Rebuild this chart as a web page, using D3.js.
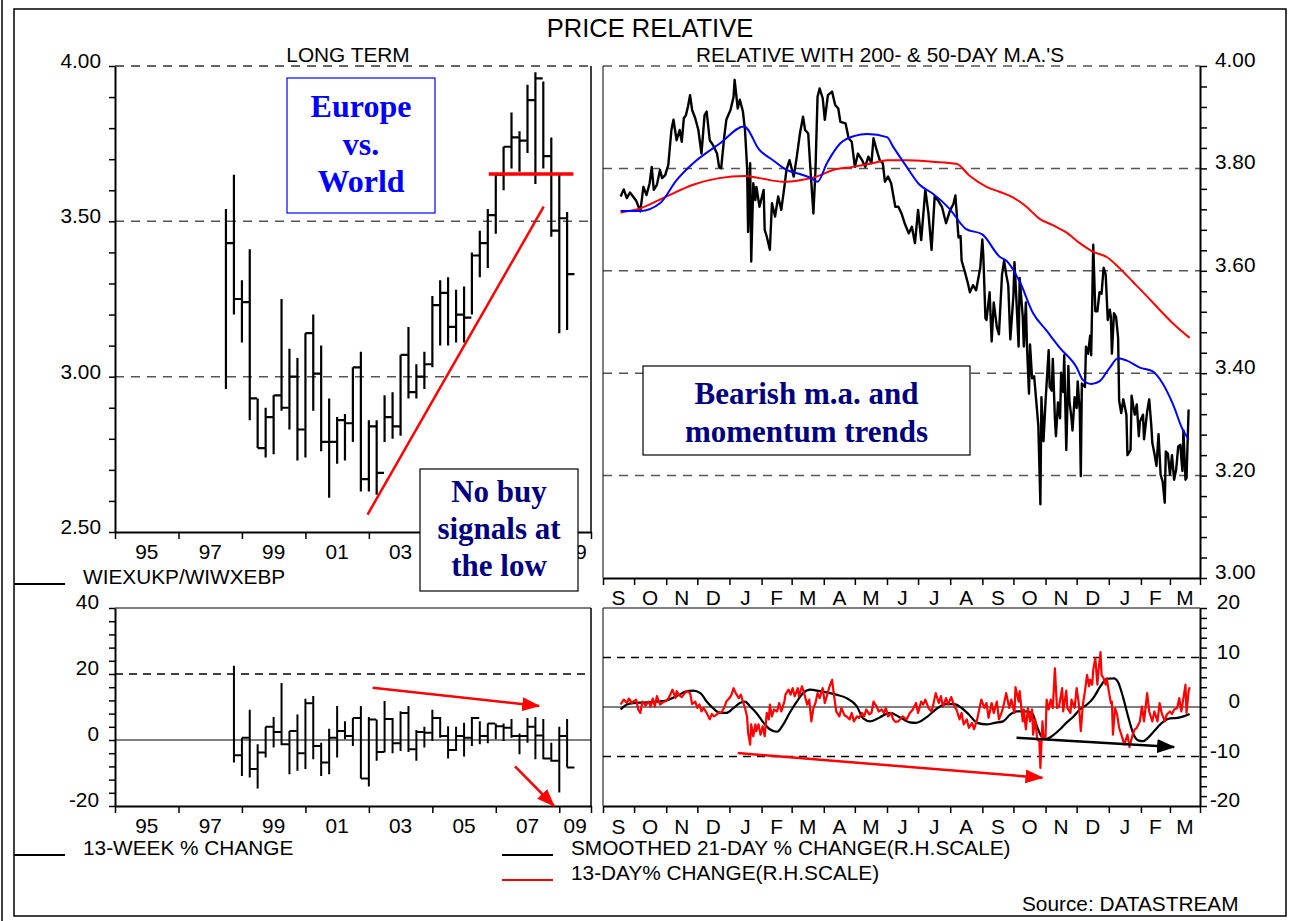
<!DOCTYPE html>
<html lang="en">
<head>
  <meta charset="UTF-8">
  <title>Price relative - Europe vs. World</title>
  <script src="https://d3js.org/d3.v7.min.js"></script>
  <style>
    body { margin: 0; background: #fff; }
    svg { display: block; font-family: "Liberation Sans", Arial, sans-serif; }
    .lbl { font-size: 20.8px; fill: #000; }
    .note { font-family: "Liberation Serif", "Times New Roman", serif; font-weight: bold; font-size: 31px; }
  </style>
</head>
<body>
<svg width="1299" height="921"></svg>

<script>
  // ---- data ----
  const yearLabels = ["95", "97", "99", "01", "03", "05", "07", "09"];
  const monthLabels = ["S","O","N","D","J","F","M","A","M","J","J","A","S","O","N","D","J","F","M"];

  // quarterly bars (plotted at quarter end)
  const quarters = ["1998Q2","1998Q3","1998Q4","1999Q1","1999Q2","1999Q3","1999Q4","2000Q1","2000Q2","2000Q3","2000Q4",
    "2001Q1","2001Q2","2001Q3","2001Q4","2002Q1","2002Q2","2002Q3","2002Q4","2003Q1","2003Q2","2003Q3","2003Q4",
    "2004Q1","2004Q2","2004Q3","2004Q4","2005Q1","2005Q2","2005Q3","2005Q4","2006Q1","2006Q2","2006Q3","2006Q4",
    "2007Q1","2007Q2","2007Q3","2007Q4","2008Q1","2008Q2","2008Q3","2008Q4","2009Q1"];
  const relHigh  = [3.54,3.65,3.31,3.41,2.93,2.90,2.94,3.25,3.09,3.06,3.14,3.20,3.10,2.93,2.87,2.88,3.03,3.08,2.86,2.86,2.94,2.95,
    3.07,3.16,3.04,3.08,3.26,3.31,3.32,3.28,3.29,3.40,3.47,3.54,3.65,3.74,3.85,3.79,3.94,3.98,3.95,3.77,3.65,3.53];
  const relLow   = [2.96,3.20,3.11,2.86,2.77,2.74,2.75,2.89,2.83,2.73,2.74,2.89,2.76,2.61,2.72,2.73,2.79,2.63,2.63,2.62,2.79,2.80,
    2.81,2.93,2.93,2.96,3.03,3.10,3.10,3.11,3.11,3.20,3.32,3.35,3.46,3.60,3.67,3.66,3.72,3.62,3.67,3.45,3.14,3.15];
  const relClose = [3.43,3.25,3.24,2.93,2.77,2.87,2.94,2.90,3.00,2.83,3.14,3.01,2.79,2.79,2.86,2.85,3.03,2.67,2.84,2.69,2.87,2.84,
    3.07,2.95,3.00,3.04,3.23,3.27,3.16,3.20,3.19,3.39,3.43,3.52,3.65,3.74,3.77,3.76,3.89,3.96,3.71,3.47,3.51,3.33];

  // 13-week % change, starts one quarter later
  const chgQuarters = quarters.slice(1);
  const chgHigh  = [22.5,0.7,9.2,-1.3,4.0,7.0,17.3,2.7,7.7,12.5,13.3,-0.8,3.4,10.3,5.7,6.7,10.3,7.0,6.2,11.8,6.7,8.7,10.3,3.0,
    4.0,9.2,7.0,4.2,4.0,5.2,7.0,5.7,5.0,5.0,5.0,6.4,2.0,6.7,7.0,6.4,-0.8,4.0,6.4];
  const chgLow   = [-6.8,-10.9,-11.4,-14.7,-5.3,-2.3,-1.6,-10.4,-9.3,-8.8,-5.8,-10.9,-10.4,-5.3,0.2,-1.8,-11.7,-14.1,-6.3,-3.8,
    -4.0,-3.3,-3.6,-6.3,-2.3,-0.3,0.7,-5.6,-3.3,-5.0,-1.8,-1.3,-1.0,0.2,-0.3,0.7,-4.3,-0.8,-5.8,-5.8,-6.6,-15.9,-8.3];
  const chgClose = [-4.6,0.7,-8.8,-3.8,4.0,2.4,-1.3,2.7,-4.0,11.1,-1.8,-6.8,0.7,2.7,1.2,6.7,-11.7,6.2,-3.6,6.4,-1.0,8.2,-2.8,
    2.4,2.2,6.7,1.2,-3.0,1.2,0.7,6.7,1.2,5.0,4.2,3.7,1.2,1.2,4.0,1.4,-5.6,-6.3,1.2,-8.3];

  // daily relative
  const relDaily = [
    ["2007-09-18",3.745],["2007-09-21",3.759],["2007-09-24",3.742],["2007-09-27",3.753],["2007-09-30",3.745],["2007-10-03",3.737],
    ["2007-10-07",3.716],["2007-10-10",3.764],["2007-10-13",3.748],["2007-10-16",3.771],["2007-10-18",3.803],["2007-10-20",3.758],
    ["2007-10-23",3.768],["2007-10-26",3.797],["2007-10-28",3.781],["2007-10-31",3.787],["2007-11-03",3.807],["2007-11-06",3.875],
    ["2007-11-08",3.895],["2007-11-11",3.855],["2007-11-14",3.875],["2007-11-16",3.852],["2007-11-18",3.898],["2007-11-20",3.904],
    ["2007-11-22",3.921],["2007-11-24",3.943],["2007-11-26",3.914],["2007-11-29",3.898],["2007-12-02",3.875],["2007-12-05",3.829],
    ["2007-12-08",3.904],["2007-12-10",3.911],["2007-12-13",3.855],["2007-12-16",3.846],["2007-12-20",3.829],["2007-12-22",3.803],
    ["2007-12-24",3.800],["2007-12-27",3.862],["2007-12-29",3.895],["2008-01-02",3.914],["2008-01-05",3.940],["2008-01-06",3.973],
    ["2008-01-09",3.917],["2008-01-11",3.934],["2008-01-14",3.911],["2008-01-16",3.875],["2008-01-18",3.803],["2008-01-19",3.676],
    ["2008-01-21",3.810],["2008-01-22",3.618],["2008-01-24",3.771],["2008-01-26",3.738],["2008-01-27",3.764],["2008-01-30",3.725],
    ["2008-02-03",3.758],["2008-02-04",3.680],["2008-02-06",3.667],["2008-02-09",3.641],["2008-02-11",3.732],["2008-02-14",3.706],
    ["2008-02-17",3.745],["2008-02-20",3.719],["2008-02-23",3.764],["2008-02-25",3.797],["2008-02-28",3.816],["2008-03-03",3.784],
    ["2008-03-06",3.823],["2008-03-09",3.868],["2008-03-12",3.901],["2008-03-14",3.875],["2008-03-17",3.868],["2008-03-19",3.803],
    ["2008-03-22",3.712],["2008-03-24",3.797],["2008-03-26",3.940],["2008-03-28",3.956],["2008-03-31",3.937],["2008-04-02",3.895],
    ["2008-04-05",3.943],["2008-04-09",3.950],["2008-04-12",3.924],["2008-04-15",3.917],["2008-04-17",3.891],["2008-04-22",3.888],
    ["2008-04-25",3.859],["2008-04-28",3.852],["2008-05-01",3.803],["2008-05-04",3.829],["2008-05-08",3.816],["2008-05-11",3.803],
    ["2008-05-14",3.823],["2008-05-17",3.810],["2008-05-19",3.859],["2008-05-22",3.836],["2008-05-25",3.816],["2008-05-28",3.810],
    ["2008-05-30",3.774],["2008-06-02",3.784],["2008-06-05",3.771],["2008-06-09",3.725],["2008-06-12",3.725],["2008-06-15",3.712],
    ["2008-06-18",3.693],["2008-06-22",3.673],["2008-06-25",3.686],["2008-06-28",3.654],["2008-07-01",3.719],["2008-07-04",3.660],
    ["2008-07-08",3.758],["2008-07-11",3.712],["2008-07-14",3.641],["2008-07-17",3.745],["2008-07-20",3.738],["2008-07-24",3.725],
    ["2008-07-28",3.693],["2008-08-01",3.719],["2008-08-04",3.730],["2008-08-06",3.747],["2008-08-09",3.665],["2008-08-11",3.668],
    ["2008-08-12",3.620],["2008-08-15",3.599],["2008-08-18",3.576],["2008-08-20",3.558],["2008-08-23",3.572],["2008-08-26",3.562],
    ["2008-08-30",3.606],["2008-09-01",3.661],["2008-09-02",3.627],["2008-09-04",3.507],["2008-09-05",3.504],["2008-09-08",3.558],
    ["2008-09-10",3.462],["2008-09-12",3.538],["2008-09-15",3.490],["2008-09-17",3.476],["2008-09-20",3.593],["2008-09-22",3.620],
    ["2008-09-24",3.593],["2008-09-26",3.572],["2008-09-28",3.466],["2008-10-01",3.552],["2008-10-02",3.617],["2008-10-04",3.538],
    ["2008-10-06",3.452],["2008-10-07",3.586],["2008-10-10",3.510],["2008-10-11",3.452],["2008-10-13",3.538],["2008-10-14",3.456],
    ["2008-10-16",3.360],["2008-10-17",3.456],["2008-10-19",3.390],["2008-10-21",3.394],["2008-10-23",3.346],["2008-10-25",3.298],
    ["2008-10-27",3.144],["2008-10-28",3.353],["2008-10-30",3.267],["2008-11-01",3.346],["2008-11-04",3.445],["2008-11-05",3.373],
    ["2008-11-07",3.366],["2008-11-08",3.428],["2008-11-10",3.312],["2008-11-11",3.277],["2008-11-13",3.343],["2008-11-15",3.312],
    ["2008-11-16",3.401],["2008-11-18",3.363],["2008-11-19",3.435],["2008-11-21",3.250],["2008-11-23",3.414],["2008-11-24",3.346],
    ["2008-11-26",3.312],["2008-11-27",3.288],["2008-11-29",3.353],["2008-12-01",3.332],["2008-12-02",3.384],["2008-12-04",3.325],
    ["2008-12-05",3.199],["2008-12-06",3.380],["2008-12-09",3.373],["2008-12-10",3.452],["2008-12-12",3.438],["2008-12-14",3.473],
    ["2008-12-15",3.435],["2008-12-16",3.538],["2008-12-17",3.651],["2008-12-19",3.521],["2008-12-21",3.521],["2008-12-23",3.558],
    ["2008-12-25",3.555],["2008-12-27",3.606],["2008-12-29",3.593],["2008-12-31",3.504],["2009-01-02",3.524],["2009-01-03",3.510],
    ["2009-01-04",3.438],["2009-01-06",3.517],["2009-01-08",3.510],["2009-01-10",3.469],["2009-01-11",3.346],["2009-01-13",3.322],
    ["2009-01-15",3.349],["2009-01-18",3.319],["2009-01-19",3.240],["2009-01-22",3.250],["2009-01-23",3.356],["2009-01-26",3.319],
    ["2009-01-28",3.339],["2009-01-30",3.277],["2009-01-31",3.305],["2009-02-03",3.319],["2009-02-04",3.271],["2009-02-07",3.325],
    ["2009-02-09",3.349],["2009-02-11",3.298],["2009-02-12",3.264],["2009-02-14",3.243],["2009-02-16",3.219],["2009-02-18",3.281],
    ["2009-02-20",3.202],["2009-02-22",3.188],["2009-02-24",3.147],["2009-02-25",3.247],["2009-02-27",3.243],["2009-03-01",3.202],
    ["2009-03-03",3.240],["2009-03-05",3.192],["2009-03-07",3.212],["2009-03-09",3.257],["2009-03-11",3.260],["2009-03-13",3.209],
    ["2009-03-14",3.288],["2009-03-16",3.192],["2009-03-17",3.195],["2009-03-19",3.329]];

  const ma50 = [
    ["2007-09-18",3.717],["2007-10-07",3.717],["2007-10-26",3.732],["2007-11-11",3.777],["2007-11-27",3.810],["2007-12-23",3.849],
    ["2008-01-15",3.882],["2008-01-30",3.836],["2008-02-12",3.816],["2008-02-25",3.797],["2008-03-09",3.789],["2008-03-20",3.781],
    ["2008-03-26",3.774],["2008-04-04",3.810],["2008-04-17",3.849],["2008-04-30",3.863],["2008-05-13",3.867],["2008-06-01",3.861],
    ["2008-06-07",3.842],["2008-06-20",3.803],["2008-07-02",3.769],["2008-07-15",3.751],["2008-07-31",3.722],["2008-08-16",3.682],
    ["2008-09-01",3.671],["2008-09-18",3.627],["2008-09-24",3.620],["2008-10-07",3.579],["2008-10-20",3.517],["2008-11-02",3.483],
    ["2008-11-15",3.449],["2008-12-01",3.411],["2008-12-07",3.387],["2008-12-15",3.379],["2008-12-23",3.384],["2009-01-02",3.411],
    ["2009-01-10",3.429],["2009-01-18",3.425],["2009-01-31",3.411],["2009-02-12",3.404],["2009-02-22",3.380],["2009-03-04",3.339],
    ["2009-03-13",3.291],["2009-03-19",3.271]];

  const ma200 = [
    ["2007-09-18",3.714],["2007-10-07",3.722],["2007-11-01",3.745],["2007-11-27",3.768],["2007-12-22",3.781],["2008-01-16",3.785],
    ["2008-01-30",3.781],["2008-02-22",3.774],["2008-03-09",3.777],["2008-03-25",3.784],["2008-04-10",3.797],["2008-04-29",3.803],
    ["2008-05-18",3.810],["2008-06-01",3.816],["2008-06-20",3.816],["2008-07-15",3.813],["2008-08-07",3.809],["2008-08-20",3.785],
    ["2008-09-05",3.764],["2008-09-18",3.754],["2008-10-01",3.743],["2008-10-13",3.726],["2008-10-26",3.702],["2008-11-08",3.689],
    ["2008-11-21",3.675],["2008-12-04",3.654],["2008-12-17",3.637],["2008-12-30",3.627],["2009-01-11",3.606],["2009-01-24",3.579],
    ["2009-02-06",3.552],["2009-02-19",3.524],["2009-03-04",3.497],["2009-03-20",3.469]];

  // 13-day % change (red)
  const chg13d = [
    ["2007-09-18",0.5],["2007-09-21",1.5],["2007-09-24",0.8],["2007-09-26",1.7],["2007-09-29",0.8],["2007-09-30",1.1],["2007-10-03",1.5],
    ["2007-10-05",-0.5],["2007-10-07",-1.2],["2007-10-09",1.1],["2007-10-12",0.3],["2007-10-15",1.1],["2007-10-17",0.1],["2007-10-19",1.7],
    ["2007-10-21",0.1],["2007-10-23",2.2],["2007-10-26",0.5],["2007-10-29",1.0],["2007-10-31",1.1],["2007-11-03",1.7],["2007-11-05",2.5],
    ["2007-11-07",3.5],["2007-11-10",1.8],["2007-11-11",3.2],["2007-11-13",2.5],["2007-11-16",2.0],["2007-11-19",2.8],["2007-11-21",3.2],
    ["2007-11-24",2.8],["2007-11-26",0.6],["2007-11-29",1.1],["2007-12-01",-0.2],["2007-12-03",0.5],["2007-12-05",-0.9],["2007-12-07",-0.2],
    ["2007-12-10",-1.2],["2007-12-13",-2.5],["2007-12-15",-1.4],["2007-12-17",-1.9],["2007-12-20",-1.5],["2007-12-22",-1.0],["2007-12-24",-1.2],
    ["2007-12-27",-0.1],["2007-12-29",1.1],["2008-01-01",1.8],["2008-01-03",2.5],["2008-01-05",3.8],["2008-01-07",2.8],["2008-01-10",1.8],
    ["2008-01-12",2.5],["2008-01-14",1.1],["2008-01-16",-0.2],["2008-01-18",-1.9],["2008-01-19",-5.2],["2008-01-21",-7.6],["2008-01-22",-3.5],
    ["2008-01-24",-5.9],["2008-01-26",-3.5],["2008-01-27",-4.9],["2008-01-29",-3.5],["2008-01-31",-5.6],["2008-02-02",-3.9],["2008-02-04",-5.9],
    ["2008-02-06",-1.2],["2008-02-08",-2.5],["2008-02-09",0.5],["2008-02-11",-1.9],["2008-02-13",-0.5],["2008-02-16",-0.9],["2008-02-18",0.8],
    ["2008-02-20",-0.9],["2008-02-23",1.1],["2008-02-24",2.5],["2008-02-27",3.5],["2008-02-29",2.5],["2008-03-02",3.8],["2008-03-04",2.2],
    ["2008-03-07",3.8],["2008-03-08",2.2],["2008-03-11",4.2],["2008-03-13",2.8],["2008-03-16",0.5],["2008-03-18",1.5],["2008-03-20",-2.9],
    ["2008-03-22",-0.2],["2008-03-24",0.8],["2008-03-26",2.8],["2008-03-28",1.8],["2008-03-31",3.8],["2008-04-02",0.8],["2008-04-04",2.2],
    ["2008-04-06",3.8],["2008-04-09",5.5],["2008-04-11",2.2],["2008-04-13",-0.9],["2008-04-16",-1.9],["2008-04-18",-0.2],["2008-04-21",-1.7],
    ["2008-04-23",-1.9],["2008-04-26",-2.5],["2008-04-28",-1.2],["2008-04-30",-2.9],["2008-05-03",-1.9],["2008-05-05",-2.2],["2008-05-08",-1.2],
    ["2008-05-10",-1.9],["2008-05-12",-0.5],["2008-05-15",-1.5],["2008-05-17",-1.2],["2008-05-19",1.1],["2008-05-22",0.1],["2008-05-24",-0.9],
    ["2008-05-27",-0.5],["2008-05-29",-1.2],["2008-05-31",-0.2],["2008-06-02",-1.9],["2008-06-05",-1.2],["2008-06-07",-2.5],["2008-06-09",-3.0],
    ["2008-06-12",-2.9],["2008-06-16",-1.9],["2008-06-20",-2.5],["2008-06-23",-1.2],["2008-06-26",-0.5],["2008-06-29",0.8],["2008-07-01",-1.2],
    ["2008-07-04",1.1],["2008-07-06",0.5],["2008-07-08",1.5],["2008-07-11",-0.2],["2008-07-14",-0.9],["2008-07-16",0.8],["2008-07-18",2.8],
    ["2008-07-21",0.8],["2008-07-23",2.2],["2008-07-25",0.1],["2008-07-28",1.8],["2008-07-30",0.5],["2008-08-02",2.0],["2008-08-05",0.1],
    ["2008-08-07",-0.5],["2008-08-10",-2.5],["2008-08-12",-1.2],["2008-08-14",-3.5],["2008-08-17",-2.5],["2008-08-19",-4.2],["2008-08-22",-3.2],
    ["2008-08-24",-4.5],["2008-08-27",-2.5],["2008-08-29",-0.5],["2008-08-31",1.5],["2008-09-03",-0.2],["2008-09-05",0.8],["2008-09-07",-2.2],
    ["2008-09-10",0.8],["2008-09-12",-1.2],["2008-09-15",1.1],["2008-09-17",-2.5],["2008-09-20",-0.9],["2008-09-22",0.8],["2008-09-24",2.8],
    ["2008-09-27",-0.2],["2008-09-29",1.5],["2008-10-02",-1.2],["2008-10-03",4.0],["2008-10-06",1.1],["2008-10-07",3.2],["2008-10-10",-2.9],
    ["2008-10-11",-0.5],["2008-10-13",-4.5],["2008-10-15",-0.2],["2008-10-17",-2.9],["2008-10-19",-0.5],["2008-10-20",-5.6],["2008-10-22",-2.5],
    ["2008-10-24",-6.6],["2008-10-26",-6.9],["2008-10-27",-12.3],["2008-10-29",-2.9],["2008-10-30",-6.2],["2008-11-01",-5.9],["2008-11-02",1.5],
    ["2008-11-04",-0.5],["2008-11-06",1.5],["2008-11-08",-0.2],["2008-11-10",7.8],["2008-11-12",-0.2],["2008-11-14",0.1],["2008-11-17",3.8],
    ["2008-11-18",-0.9],["2008-11-21",3.3],["2008-11-22",-0.2],["2008-11-25",-1.2],["2008-11-26",1.5],["2008-11-29",-0.2],["2008-12-01",3.8],
    ["2008-12-03",0.8],["2008-12-05",-4.9],["2008-12-07",0.5],["2008-12-09",3.2],["2008-12-11",6.5],["2008-12-13",4.2],["2008-12-14",5.5],
    ["2008-12-16",4.5],["2008-12-17",7.5],["2008-12-19",9.9],["2008-12-21",4.5],["2008-12-22",7.2],["2008-12-24",11.1],["2008-12-25",6.5],
    ["2008-12-27",5.8],["2008-12-29",4.5],["2008-12-30",5.8],["2009-01-01",3.2],["2009-01-03",0.8],["2009-01-04",1.1],["2009-01-05",-5.6],
    ["2009-01-07",-0.2],["2009-01-09",-1.5],["2009-01-11",-4.2],["2009-01-14",-6.2],["2009-01-16",-7.6],["2009-01-19",-5.6],["2009-01-21",-8.1],
    ["2009-01-24",-5.6],["2009-01-26",-4.5],["2009-01-28",-4.2],["2009-01-31",-2.9],["2009-02-02",0.1],["2009-02-04",-2.9],["2009-02-07",2.8],
    ["2009-02-09",-0.9],["2009-02-12",-2.9],["2009-02-14",-0.9],["2009-02-17",-2.9],["2009-02-19",0.8],["2009-02-21",-1.2],["2009-02-24",-2.9],
    ["2009-02-26",-1.5],["2009-03-01",-0.9],["2009-03-03",-1.4],["2009-03-05",-0.5],["2009-03-08",-0.2],["2009-03-10",1.8],["2009-03-12",-0.9],
    ["2009-03-14",1.8],["2009-03-16",4.5],["2009-03-17",-1.2],["2009-03-19",3.2],["2009-03-20",4.0]];

  // smoothed 21-day % change (black)
  const chg21s = [
    ["2007-09-18",-0.5],["2007-09-24",0.5],["2007-09-30",0.8],["2007-10-10",0.9],["2007-10-23",1.1],["2007-11-01",1.3],["2007-11-11",2.2],
    ["2007-11-21",3.2],["2007-11-27",3.3],["2007-12-04",2.8],["2007-12-10",1.1],["2007-12-16",-0.2],["2007-12-23",-1.2],["2007-12-29",-1.2],
    ["2008-01-05",-0.2],["2008-01-11",0.8],["2008-01-16",1.1],["2008-01-21",0.1],["2008-01-27",-1.2],["2008-02-03",-3.2],["2008-02-09",-4.5],
    ["2008-02-16",-5.0],["2008-02-22",-3.5],["2008-02-28",-1.2],["2008-03-06",1.1],["2008-03-12",2.8],["2008-03-19",3.5],["2008-03-28",3.2],
    ["2008-04-07",2.8],["2008-04-13",2.5],["2008-04-23",1.8],["2008-05-03",0.1],["2008-05-09",-2.3],["2008-05-16",-2.9],["2008-05-25",-2.1],
    ["2008-06-04",-1.2],["2008-06-12",-1.9],["2008-06-23",-3.1],["2008-06-29",-3.2],["2008-07-09",-2.1],["2008-07-18",-0.5],["2008-07-28",0.6],
    ["2008-08-05",0.6],["2008-08-12",-0.2],["2008-08-19",-1.5],["2008-08-27",-3.2],["2008-09-05",-3.5],["2008-09-13",-3.2],["2008-09-21",-2.9],
    ["2008-09-28",-1.5],["2008-10-04",-0.9],["2008-10-12",-0.9],["2008-10-19",-1.2],["2008-10-23",-3.5],["2008-10-28",-5.9],["2008-11-02",-6.4],
    ["2008-11-09",-5.6],["2008-11-15",-4.5],["2008-11-21",-3.2],["2008-11-28",-1.9],["2008-12-04",-0.5],["2008-12-11",0.5],["2008-12-17",1.8],
    ["2008-12-24",4.2],["2008-12-30",5.7],["2009-01-06",5.8],["2009-01-10",5.0],["2009-01-15",1.8],["2009-01-20",-2.2],["2009-01-25",-5.6],
    ["2009-01-30",-6.8],["2009-02-03",-6.9],["2009-02-08",-6.2],["2009-02-14",-4.8],["2009-02-23",-2.9],["2009-03-01",-2.3],["2009-03-08",-2.2],
    ["2009-03-14",-1.9],["2009-03-20",-1.4]];

  // hand-drawn annotations, in data units
  const longTrend   = [["2002-12-17", 2.556], ["2008-07-05", 3.547]];
  const longResist  = [["2006-10-12", 3.652], ["2009-06-13", 3.652]];
  const chgArrowUp  = [["2003-02-14", 15.8], ["2008-05-15", 10.3]];
  const chgArrowDn  = [["2007-08-10", -8.0], ["2008-11-02", -20]];
  const momArrowRed = [["2008-01-09", -9.3], ["2008-10-29", -14.3]];
  const momArrowBlk = [["2008-10-04", -6.2], ["2009-03-05", -8.1]];

  // ---- scales ----
  const parseDate = d3.timeParse("%Y-%m-%d");
  const quarterEnd = s => new Date(+s.slice(0, 4), +s.slice(5) * 3, 1);

  const xLong = d3.scaleTime().domain([new Date(1995, 0, 1), new Date(2010, 0, 1)]).range([115, 591]);
  const yLong = d3.scaleLinear().domain([2.5, 4]).range([532, 66]);
  const yChgL = d3.scaleLinear().domain([-20, 40]).range([806, 608]);
  const xDay  = d3.scaleTime().domain([new Date(2007, 8, 1), new Date(2009, 2, 30)]).range([603, 1200]);
  const yRel  = d3.scaleLinear().domain([3, 4]).range([578, 66]);
  const yChgR = d3.scaleLinear().domain([-20, 20]).range([806, 608]);

  const svg = d3.select("svg");
  svg.append("rect").attr("width", 1299).attr("height", 921).attr("fill", "#fff");

  const defs = svg.append("defs");
  [["headRed", "#ff0000"], ["headBlack", "#000"]].forEach(([id, c]) => {
    defs.append("marker").attr("id", id).attr("markerUnits", "userSpaceOnUse")
      .attr("markerWidth", 18).attr("markerHeight", 14).attr("refX", 17).attr("refY", 7).attr("orient", "auto")
      .append("path").attr("d", "M0,0 L18,7 L0,14 z").attr("fill", c);
  });

  // outer frame
  svg.append("rect").attr("x", 14).attr("y", 9).attr("width", 1272).attr("height", 907)
    .attr("fill", "none").attr("stroke", "#000").attr("stroke-width", 1.5);
  svg.append("line").attr("x1", 2).attr("x2", 2).attr("y1", 0).attr("y2", 921).attr("stroke", "#000").attr("stroke-width", 1.5);

  // titles
  svg.append("text").attr("x", 650).attr("y", 37).attr("text-anchor", "middle").style("font-size", "25.5px").text("PRICE RELATIVE");
  svg.append("text").attr("class", "lbl").attr("x", 348).attr("y", 62).attr("text-anchor", "middle").text("LONG TERM");
  svg.append("text").attr("class", "lbl").attr("x", 880).attr("y", 62).attr("text-anchor", "middle").text("RELATIVE WITH 200- & 50-DAY M.A.'S");

  function styleAxis(g) {
    g.select(".domain").attr("stroke-width", 2);
    g.selectAll(".tick line").attr("stroke-width", 1.5);
  }
  function hline(g, x0, x1, y, dash, color, w) {
    g.append("line").attr("x1", x0).attr("x2", x1).attr("y1", y).attr("y2", y)
      .attr("stroke", color).attr("stroke-width", w).attr("stroke-dasharray", dash);
  }
  function vline(g, x, y0, y1, w) {
    g.append("line").attr("x1", x).attr("x2", x).attr("y1", y0).attr("y2", y1).attr("stroke", "#000").attr("stroke-width", w);
  }
  function hlcPath(x, y, h, l, c, w) {
    return `M${x},${y(h)}V${y(l)}M${x},${y(c)}H${x + w}`;
  }

  const yearTicks = d3.timeYear.range(new Date(1995, 0, 1), new Date(2009, 0, 2), 2).concat([new Date(2010, 0, 1)]);
  const monthStarts = d3.timeMonth.range(new Date(2007, 8, 1), new Date(2009, 2, 30));
  const dayEnd = xDay.domain()[1];
  const monthTicks = monthStarts.concat([dayEnd]);
  const qStep = xLong(new Date(2001, 3, 1)) - xLong(new Date(2001, 0, 1));

  // hidden: labels that sit under the "No buy" note box
  function yearAxis(g, y0, labelY, hidden) {
    g.append("g").attr("transform", `translate(0,${y0})`)
      .call(d3.axisBottom(xLong).tickValues(yearTicks).tickSize(7).tickSizeOuter(0).tickFormat(""))
      .call(styleAxis);
    yearLabels.forEach((t, i) => {
      if (hidden.includes(t)) return;
      const a = xLong(yearTicks[i]), b = xLong(yearTicks[i + 1]);
      g.append("text").attr("class", "lbl").attr("x", Math.min((a + b) / 2, 577)).attr("y", labelY)
        .attr("text-anchor", "middle").text(t);
    });
  }
  function monthAxis(g, y0, labelY) {
    g.append("g").attr("transform", `translate(0,${y0})`)
      .call(d3.axisBottom(xDay).tickValues(monthTicks).tickSize(7).tickSizeOuter(0).tickFormat(""))
      .call(styleAxis);
    monthStarts.forEach((m, i) => {
      const next = i + 1 < monthStarts.length ? monthStarts[i + 1] : dayEnd;
      g.append("text").attr("class", "lbl").attr("x", (xDay(m) + xDay(next)) / 2).attr("y", labelY)
        .attr("text-anchor", "middle").text(monthLabels[i]);
    });
  }

  // ================= top-left: long term =================
  const tl = svg.append("g");
  [3.0, 3.5].forEach(v => hline(tl, 115, 591, yLong(v), "9,7", "#555", 1.5));
  hline(tl, 115, 591, yLong(4), "9,7", "#333", 1.5);
  vline(tl, 591, 66, 532, 1.5);
  tl.append("g").attr("transform", "translate(115,0)")
    .call(d3.axisLeft(yLong).tickValues(d3.range(25, 41).map(d => d / 10)).tickSize(6).tickSizeOuter(0).tickFormat(""))
    .call(styleAxis);
  [2.5, 3.0, 3.5, 4.0].forEach(v => tl.append("text").attr("class", "lbl").attr("x", 101).attr("y", yLong(v) + 2)
    .attr("text-anchor", "end").text(v.toFixed(2)));
  yearAxis(tl, 532, 559, ["05", "07"]);

  tl.append("g").selectAll("path").data(quarters).join("path")
    .attr("d", (q, i) => hlcPath(xLong(quarterEnd(q)), yLong, relHigh[i], relLow[i], relClose[i], qStep - 0.5))
    .attr("fill", "none").attr("stroke", "#000").attr("stroke-width", 2.2);

  const lineOf = (x, y) => d3.line().x(d => x(parseDate(d[0]))).y(d => y(d[1]));
  tl.append("path").attr("d", lineOf(xLong, yLong)(longTrend)).attr("stroke", "#ff0000").attr("stroke-width", 2.5).attr("fill", "none");
  tl.append("path").attr("d", lineOf(xLong, yLong)(longResist)).attr("stroke", "#ff0000").attr("stroke-width", 3.5).attr("fill", "none");

  // ================= top-right: relative with m.a.'s =================
  const tr = svg.append("g");
  [3.2, 3.4, 3.6, 3.8, 4.0].forEach(v => hline(tr, 603, 1200, yRel(v), "9,7", "#555", 1.5));
  vline(tr, 603, 66, 578, 1);
  tr.append("g").attr("transform", "translate(1200,0)")
    .call(d3.axisRight(yRel).tickValues(d3.range(0, 26).map(d => 3 + d * 0.04)).tickSize(7).tickSizeOuter(0).tickFormat(""))
    .call(styleAxis);
  [3.0, 3.2, 3.4, 3.6, 3.8, 4.0].forEach(v => tr.append("text").attr("class", "lbl").attr("x", 1215).attr("y", yRel(v) + 1)
    .text(v.toFixed(2)));
  monthAxis(tr, 578, 605);

  tr.append("path").attr("d", lineOf(xDay, yRel)(relDaily)).attr("fill", "none").attr("stroke", "#000")
    .attr("stroke-width", 2.4).attr("stroke-linejoin", "round");
  tr.append("path").attr("d", lineOf(xDay, yRel).curve(d3.curveMonotoneX)(ma200)).attr("fill", "none").attr("stroke", "#ff0000").attr("stroke-width", 2);
  tr.append("path").attr("d", lineOf(xDay, yRel).curve(d3.curveMonotoneX)(ma50)).attr("fill", "none").attr("stroke", "#0000ff").attr("stroke-width", 2);

  // ================= bottom-left: 13-week % change =================
  const bl = svg.append("g");
  hline(bl, 115, 591, yChgL(20), "8,6", "#000", 1.5);
  hline(bl, 115, 591, yChgL(0), null, "#000", 1.2);
  hline(bl, 115, 591, yChgL(40), null, "#000", 1.2);
  vline(bl, 591, 608, 806, 1.5);
  bl.append("g").attr("transform", "translate(115,0)")
    .call(d3.axisLeft(yChgL).tickValues(d3.range(-20, 41, 4)).tickSize(6).tickSizeOuter(0).tickFormat(""))
    .call(styleAxis);
  [-20, 0, 20, 40].forEach(v => bl.append("text").attr("class", "lbl").attr("x", 99).attr("y", yChgL(v) + 1)
    .attr("text-anchor", "end").text(v));
  yearAxis(bl, 806, 833, []);

  bl.append("g").selectAll("path").data(chgQuarters).join("path")
    .attr("d", (q, i) => hlcPath(xLong(quarterEnd(q)), yChgL, chgHigh[i], chgLow[i], chgClose[i], qStep - 0.5))
    .attr("fill", "none").attr("stroke", "#000").attr("stroke-width", 2);

  function arrow(g, x, y, pts, color, head) {
    g.append("line")
      .attr("x1", x(parseDate(pts[0][0]))).attr("y1", y(pts[0][1]))
      .attr("x2", x(parseDate(pts[1][0]))).attr("y2", y(pts[1][1]))
      .attr("stroke", color).attr("stroke-width", 2.5).attr("marker-end", `url(#${head})`);
  }
  arrow(bl, xLong, yChgL, chgArrowUp, "#ff0000", "headRed");
  arrow(bl, xLong, yChgL, chgArrowDn, "#ff0000", "headRed");

  // ================= bottom-right: momentum =================
  const br = svg.append("g");
  [10, -10].forEach(v => hline(br, 603, 1200, yChgR(v), "8,6", "#000", 1.5));
  hline(br, 603, 1200, yChgR(0), null, "#000", 1.2);
  hline(br, 603, 1200, yChgR(20), null, "#000", 1.2);
  vline(br, 603, 608, 806, 1);
  br.append("g").attr("transform", "translate(1200,0)")
    .call(d3.axisRight(yChgR).tickValues(d3.range(-20, 21, 2)).tickSize(7).tickSizeOuter(0).tickFormat(""))
    .call(styleAxis);
  [-20, -10, 0, 10, 20].forEach(v => br.append("text").attr("class", "lbl").attr("x", 1240).attr("y", yChgR(v) + 1)
    .attr("text-anchor", "end").text(v));
  monthAxis(br, 806, 834);

  br.append("path").attr("d", lineOf(xDay, yChgR).curve(d3.curveMonotoneX)(chg21s)).attr("fill", "none").attr("stroke", "#000").attr("stroke-width", 2.2);
  br.append("path").attr("d", lineOf(xDay, yChgR)(chg13d)).attr("fill", "none").attr("stroke", "#ff0000")
    .attr("stroke-width", 2.2).attr("stroke-linejoin", "round");
  arrow(br, xDay, yChgR, momArrowRed, "#ff0000", "headRed");
  arrow(br, xDay, yChgR, momArrowBlk, "#000", "headBlack");

  // ================= legends =================
  const legend = [
    { x: 14, y: 584, color: "#000", text: "WIEXUKP/WIWXEBP" },
    { x: 14, y: 855, color: "#000", text: "13-WEEK % CHANGE" },
    { x: 502, y: 855, color: "#000", text: "SMOOTHED 21-DAY % CHANGE(R.H.SCALE)" },
    { x: 502, y: 880, color: "#ff0000", text: "13-DAY% CHANGE(R.H.SCALE)" }
  ];
  legend.forEach(d => {
    svg.append("line").attr("x1", d.x).attr("x2", d.x + 51).attr("y1", d.y).attr("y2", d.y)
      .attr("stroke", d.color).attr("stroke-width", d.color === "#000" ? 2 : 1.8);
    svg.append("text").attr("class", "lbl").attr("x", d.x + 69).attr("y", d.y).text(d.text);
  });
  svg.append("text").attr("class", "lbl").attr("x", 1022).attr("y", 911).text("Source: DATASTREAM");

  // ================= annotation boxes =================
  function noteBox(x, y, w, h, stroke, fill, lines, y0, gap, size) {
    const g = svg.append("g");
    g.append("rect").attr("x", x).attr("y", y).attr("width", w).attr("height", h)
      .attr("fill", "#fff").attr("stroke", stroke).attr("stroke-width", 1.2);
    lines.forEach((t, i) => g.append("text").attr("class", "note").attr("x", x + w / 2).attr("y", y0 + i * gap)
      .attr("text-anchor", "middle").attr("fill", fill).style("font-size", size + "px").text(t));
  }
  noteBox(287, 78, 148, 135, "#0000ff", "#0000ff", ["Europe", "vs.", "World"], 117, 37.5, 32);
  noteBox(420, 469, 158, 122, "#000", "#000080", ["No buy", "signals at", "the low"], 502, 37, 31);
  noteBox(643, 366, 327, 89, "#000", "#000080", ["Bearish m.a. and", "momentum trends"], 404, 38, 31);
</script>
</body>
</html>
